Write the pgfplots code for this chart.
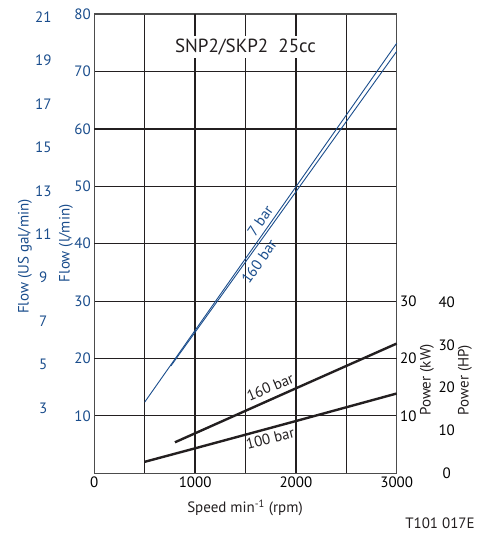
\documentclass[border=0pt]{standalone}
\usepackage{fontspec}
\setmainfont{PT Sans}
\usepackage{pgfplots}
\pgfplotsset{compat=1.18}
\definecolor{fblue}{RGB}{26,77,140}
\definecolor{gridk}{RGB}{35,31,32}
\begin{document}
\begin{tikzpicture}[x=1pt,y=1pt]
\path[use as bounding box] (-94.3,-61.7) rectangle (397.7,473.3);
\pgfplotsset{mystyle/.style={scale only axis, width=302.4pt, height=459.3pt, at={(0,0)}, anchor=south west,
  xmin=0,xmax=3000, /pgf/number format/assume math mode=true, /pgf/number format/1000 sep={},
  tick label style={font=\fontsize{15}{18}\selectfont}, major tick length=0pt}}
% US gal axis
\begin{axis}[mystyle, ymin=0, ymax=21.134, ytick={3,5,...,21}, hide x axis, axis y line*=left,
  y axis line style={draw=none}, yticklabel style={text=fblue, anchor=center, xshift=-51pt}]
\end{axis}
% HP axis
\begin{axis}[mystyle, ymin=0, ymax=107.28, ytick={0,10,...,40}, hide x axis, axis y line*=right,
  y axis line style={draw=none}, yticklabel style={anchor=center, xshift=50pt}]
\end{axis}
% kW axis
\begin{axis}[mystyle, ymin=0, ymax=80, ytick={10,20,30}, hide x axis, axis y line*=right,
  y axis line style={draw=none}]
\end{axis}
% main axis
\begin{axis}[mystyle, ymin=0, ymax=80,
  axis line style={draw=gray!60!black, line width=1.1pt},
  xtick={0,500,...,3000}, xticklabels={0,,1000,,2000,,3000},
  ytick={10,20,...,80},
  yticklabel style={text=fblue},
  grid=major, major grid style={draw=gridk, line width=0.85pt},
  extra x ticks={1000,2000}, extra x tick labels={},
  extra x tick style={major grid style={draw=gridk, line width=1.5pt}},
  extra y ticks={20,40,60}, extra y tick labels={},
  extra y tick style={major grid style={draw=gridk, line width=1.6pt}},
  clip=false]
\addplot[fblue, line width=0.9pt] coordinates {(500,12.4) (3000,74.9)};
\addplot[fblue, line width=0.9pt] coordinates {(760,18.7) (3000,73.5)};
\addplot[gridk, line width=2.4pt] coordinates {(800,5.4) (2000,14.8) (3000,22.6)};
\addplot[gridk, line width=2.4pt] coordinates {(500,2.0) (1000,4.35) (2000,9.1) (3000,13.9)};
\node[fill=white, inner sep=3pt, font=\fontsize{19}{22}\selectfont, text=gridk] at (axis cs:1500,74.3) {SNP2/SKP2\ \ 25cc};
\node[rotate=55, anchor=south, inner sep=4pt, text=fblue, font=\fontsize{15}{18}\selectfont] at (axis cs:1723,42.97) {7 bar};
\node[rotate=55, anchor=north, inner sep=5pt, text=fblue, font=\fontsize{15}{18}\selectfont] at (axis cs:1548,37.9) {160 bar};
\node[rotate=23, text=gridk, font=\fontsize{15}{18}\selectfont] at (axis cs:1745,15.05) {160 bar};
\node[rotate=14, text=gridk, font=\fontsize{15}{18}\selectfont] at (axis cs:1745,6.15) {100 bar};
\end{axis}
\node[rotate=90, text=fblue, font=\fontsize{15}{18}\selectfont] at (-28.3,230) {Flow (l/min)};
\node[rotate=90, text=fblue, font=\fontsize{15}{18}\selectfont] at (-69.3,216.8) {Flow (US gal/min)};
\node[rotate=90, text=gridk, font=\fontsize{15}{18}\selectfont] at (332.7,93.3) {Power (kW)};
\node[rotate=90, text=gridk, font=\fontsize{15}{18}\selectfont] at (370.7,93.3) {Power (HP)};
\node[text=gridk, font=\fontsize{15}{18}\selectfont] at (150.7,-34.7) {Speed min\textsuperscript{-1} (rpm)};
\node[text=gridk, font=\fontsize{15}{18}\selectfont] at (345.7,-49.7) {T101 017E};
\end{tikzpicture}
\end{document}
